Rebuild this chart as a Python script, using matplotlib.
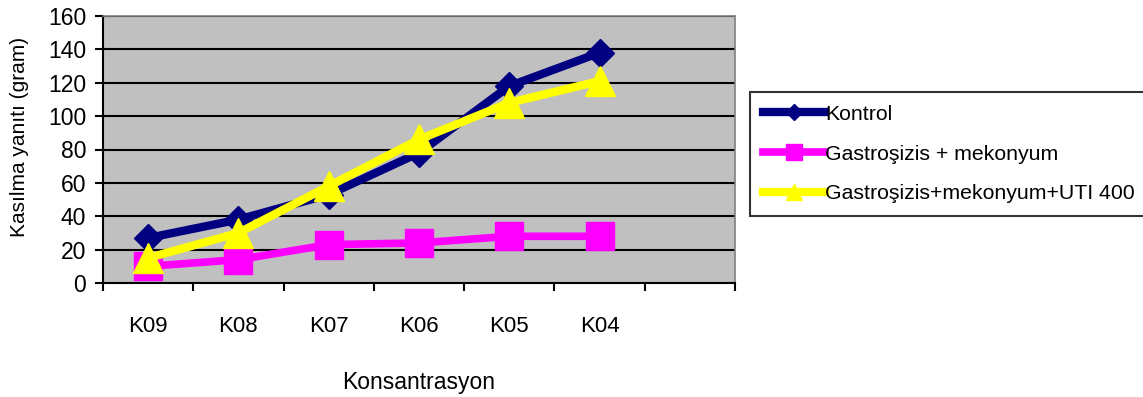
import matplotlib
matplotlib.use("Agg")
import matplotlib.pyplot as plt
import numpy as np

categories = ["K09", "K08", "K07", "K06", "K05", "K04"]
kontrol = [27, 38, 53, 78, 118, 138]
gastro_mek = [10, 14, 23, 24, 28, 28]
gastro_mek_uti = [15, 30, 58, 86, 108, 121]
series_labels = ["Kontrol", "Gastroşizis + mekonyum", "Gastroşizis+mekonyum+UTI 400"]
y_ticks = list(range(0, 161, 20))
n_slots = 7

plt.rcParams["font.family"] = ["Liberation Sans", "DejaVu Sans"]

W, H = 1143, 397
fig = plt.figure(figsize=(W / 100, H / 100), dpi=100)
ax = fig.add_axes([103 / W, 1 - 283 / H, (735 - 103) / W, (283 - 16) / H])
ax.set_facecolor("#C0C0C0")

x = np.arange(len(categories)) + 0.5

ax.plot(x, kontrol, color="#000080", lw=6, marker="D", ms=14,
        mec="#000080", mfc="#000080", solid_joinstyle="round", zorder=3,
        label=series_labels[0])
ax.plot(x, gastro_mek, color="#FF00FF", lw=5.5, marker="s", ms=20,
        mec="#FF00FF", mfc="#FF00FF", solid_joinstyle="round", zorder=4,
        label=series_labels[1])
ax.plot(x, gastro_mek_uti, color="#FFFF00", lw=6, marker="^", ms=21,
        mec="#FFFF00", mfc="#FFFF00", solid_joinstyle="round", zorder=5,
        label=series_labels[2])

ax.set_xlim(0, n_slots)
ax.set_ylim(0, 160)
ax.set_yticks(y_ticks)
ax.yaxis.grid(True, color="black", lw=1.5)
ax.set_axisbelow(True)

ax.set_xticks(np.arange(n_slots + 1))
ax.set_xticklabels([])
ax.set_xticks(x, minor=True)
ax.set_xticklabels(categories, minor=True)
ax.tick_params(axis="x", which="major", direction="out", length=6, width=1.5, color="black")
ax.tick_params(axis="x", which="minor", length=0, pad=24, labelsize=16)
ax.tick_params(axis="y", direction="out", length=6, width=1.5, labelsize=16.5, pad=6)

for side in ("left", "bottom"):
    ax.spines[side].set_color("black")
    ax.spines[side].set_linewidth(1.5)
for side in ("top", "right"):
    ax.spines[side].set_color("#808080")
    ax.spines[side].set_linewidth(1.2)

fig.text(20 / W, 1 - 137 / H, "Kasılma yanıtı (gram)", rotation=90,
         ha="center", va="center", fontsize=15)
fig.text(419 / W, 1 - 383 / H, "Konsantrasyon", ha="center", va="center",
         fontsize=16.5)

leg = fig.legend(loc="upper left", bbox_to_anchor=(750 / W, 1 - 92 / H),
                 fontsize=15.3, frameon=True, fancybox=False, edgecolor="black",
                 handlelength=2.95, handletextpad=0.0, labelspacing=0.98,
                 borderpad=0.6, borderaxespad=0, markerscale=0.55)
leg.get_frame().set_linewidth(1.5)

fig.savefig("out.png", dpi=100)
